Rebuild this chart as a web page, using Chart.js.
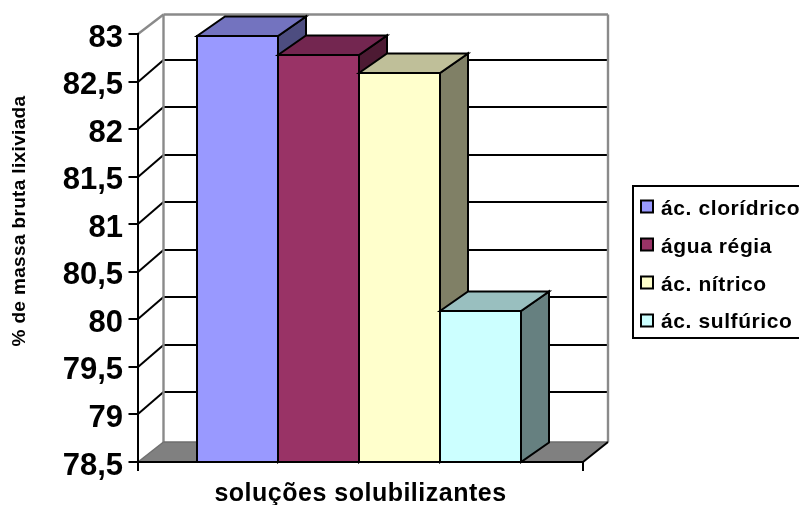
<!DOCTYPE html>
<html><head><meta charset="utf-8">
<style>html,body{margin:0;padding:0;background:#fff;overflow:hidden}canvas{display:block}</style>
<script src="https://cdn.jsdelivr.net/npm/chart.js@4/dist/chart.umd.js"></script>
</head><body><canvas id="c" width="799" height="505"></canvas>
<script>
const categories = [''];
const seriesNames = ['ác. clorídrico', 'água régia', 'ác. nítrico', 'ác. sulfúrico'];
const seriesValues = [82.98, 82.78, 82.59, 80.09];
const frontColors = ['#9999FF', '#993366', '#FFFFCC', '#CCFFFF'];
const topColors = ['#7373BF', '#732650', '#BFBF99', '#99BFBF'];
const sideColors = ['#4D4D80', '#4D1A33', '#808066', '#668080'];
const yTitle = '% de massa bruta lixiviada';
const xTitle = 'soluções solubilizantes';
const yMin = 78.5, yMax = 83, yStep = 0.5;
const FONT = '"Liberation Sans", Arial, sans-serif';

function poly(ctx, pts, fill, stroke, lw) {
  ctx.beginPath();
  pts.forEach((p, i) => i ? ctx.lineTo(p[0], p[1]) : ctx.moveTo(p[0], p[1]));
  ctx.closePath();
  if (fill) { ctx.fillStyle = fill; ctx.fill(); }
  if (stroke) { ctx.strokeStyle = stroke; ctx.lineWidth = lw; ctx.stroke(); }
}
function line(ctx, x1, y1, x2, y2, color, lw) {
  ctx.beginPath(); ctx.moveTo(x1, y1); ctx.lineTo(x2, y2);
  ctx.strokeStyle = color; ctx.lineWidth = lw; ctx.stroke();
}

const scene3d = {
  id: 'scene3d',
  beforeDraw(chart) {
    if (!chart.$labelsMoved) {
      chart.scales.y.getLabelItems().forEach(it => { it.options.translation[1] += 4; });
      chart.$labelsMoved = true;
    }
  },
  beforeDatasetsDraw(chart) {
    const ctx = chart.ctx, ys = chart.scales.y, xs = chart.scales.x;
    const axisX = xs.left + 3, right = xs.right, bottom = Math.round(ys.getPixelForValue(yMin));
    const wallX = axisX + 25.5, wallR = right + 25;
    const gray = '#8a8a8a';
    ctx.save();
    ctx.lineJoin = 'miter';
    // floor
    poly(ctx, [[axisX, bottom], [wallX, bottom - 20], [wallR, bottom - 20], [right, bottom]], '#808080');
    // grid, side wall diagonals and tick marks
    for (let v = yMin + yStep; v < yMax - 1e-6; v += yStep) {
      const y = Math.round(ys.getPixelForValue(v));
      line(ctx, wallX, y - 22, wallR, y - 22, '#000', 2);
      line(ctx, axisX, y, wallX, y - 22, '#000', 2);
    }
    const top = Math.round(ys.getPixelForValue(yMax));
    line(ctx, axisX, top, wallX, top - 19.5, gray, 2.4);
    line(ctx, wallX, top - 19.5, wallR, top - 19.5, gray, 2.4);
    line(ctx, wallX, top - 19.5, wallX, bottom - 20, gray, 2.4);
    line(ctx, wallR, top - 19.5, wallR, bottom - 20, gray, 2.4);
    line(ctx, wallX, bottom - 20, wallR, bottom - 20, '#6e6e6e', 1.5);
    line(ctx, right, bottom, wallR, bottom - 20, '#000', 2);
    line(ctx, axisX, bottom, wallX, bottom - 20, '#707070', 1.5);
    // axes
    line(ctx, axisX, top - 1, axisX, bottom + 9, '#000', 2);
    for (let v = yMin; v <= yMax + 1e-6; v += yStep) {
      const y = Math.round(ys.getPixelForValue(v));
      line(ctx, axisX - 9.5, y, axisX, y, '#000', 2);
    }
    line(ctx, axisX, bottom, right, bottom, '#000', 2);
    line(ctx, right, bottom, right, bottom + 9, '#000', 2);
    // bars, drawn left to right so that each front covers the side of its neighbour
    const dx = 28, dy = -19.5;
    chart.data.datasets.forEach((ds, i) => {
      const el = chart.getDatasetMeta(i).data[0];
      const l = el.x - el.width / 2, r = el.x + el.width / 2, t = Math.round(el.y), b = Math.round(el.base);
      poly(ctx, [[r, t], [r + dx, t + dy], [r + dx, b + dy], [r, b]], sideColors[i], '#000', 2);
      poly(ctx, [[l, t], [l + dx, t + dy], [r + dx, t + dy], [r, t]], topColors[i], '#000', 2);
      el.draw(ctx);
      ctx.strokeStyle = '#000'; ctx.lineWidth = 2;
      ctx.strokeRect(l, t, el.width, b - t);
    });
    ctx.restore();
    return false;
  },
  afterDraw(chart) {
    const ctx = chart.ctx;
    ctx.save();
    ctx.fillStyle = '#000';
    ctx.textBaseline = 'alphabetic';
    // axis titles
    ctx.font = 'bold 25px ' + FONT;
    ctx.letterSpacing = '0.5px';
    ctx.textAlign = 'center';
    ctx.fillText(xTitle, 360.5, 501);
    ctx.save();
    ctx.translate(25, 221);
    ctx.rotate(-Math.PI / 2);
    ctx.font = 'bold 19px ' + FONT;
    ctx.letterSpacing = '0.35px';
    ctx.fillText(yTitle, 0, 0);
    ctx.restore();
    // legend
    ctx.strokeStyle = '#000'; ctx.lineWidth = 2;
    ctx.strokeRect(633, 186, 180, 152);
    ctx.font = 'bold 21px ' + FONT;
    ctx.letterSpacing = '0.6px';
    ctx.textAlign = 'left';
    const keyY = [200.5, 238.5, 276.5, 314.5], baseY = [215, 253, 291, 328];
    chart.data.datasets.forEach((ds, i) => {
      ctx.fillStyle = ds.backgroundColor;
      ctx.fillRect(641, keyY[i], 12, 12);
      ctx.strokeRect(641, keyY[i], 12, 12);
      ctx.fillStyle = '#000';
      ctx.fillText(ds.label, 661, baseY[i]);
    });
    ctx.restore();
  }
};

new Chart(document.getElementById('c'), {
  type: 'bar',
  data: {
    labels: categories,
    datasets: seriesNames.map((name, i) => ({
      label: name,
      data: [seriesValues[i]],
      base: yMin,
      backgroundColor: frontColors[i],
      borderWidth: 0,
      barPercentage: 1,
      categoryPercentage: 324 / 448
    }))
  },
  options: {
    responsive: false,
    animation: false,
    layout: { padding: { left: 0, right: 216, top: 34, bottom: 0 } },
    plugins: { legend: { display: false }, tooltip: { enabled: false } },
    scales: {
      x: {
        grid: { display: false }, border: { display: false },
        ticks: { display: false },
        afterFit(s) { s.height = 43; }
      },
      y: {
        min: yMin, max: yMax,
        grid: { display: false, drawTicks: false }, border: { display: false },
        ticks: {
          stepSize: yStep, autoSkip: false, padding: 12,
          color: '#000',
          font: { family: FONT, size: 31, weight: 'bold' },
          callback: v => String(v).replace('.', ',')
        },
        afterFit(s) { s.width = 135; }
      }
    }
  },
  plugins: [scene3d]
});
</script></body></html>
